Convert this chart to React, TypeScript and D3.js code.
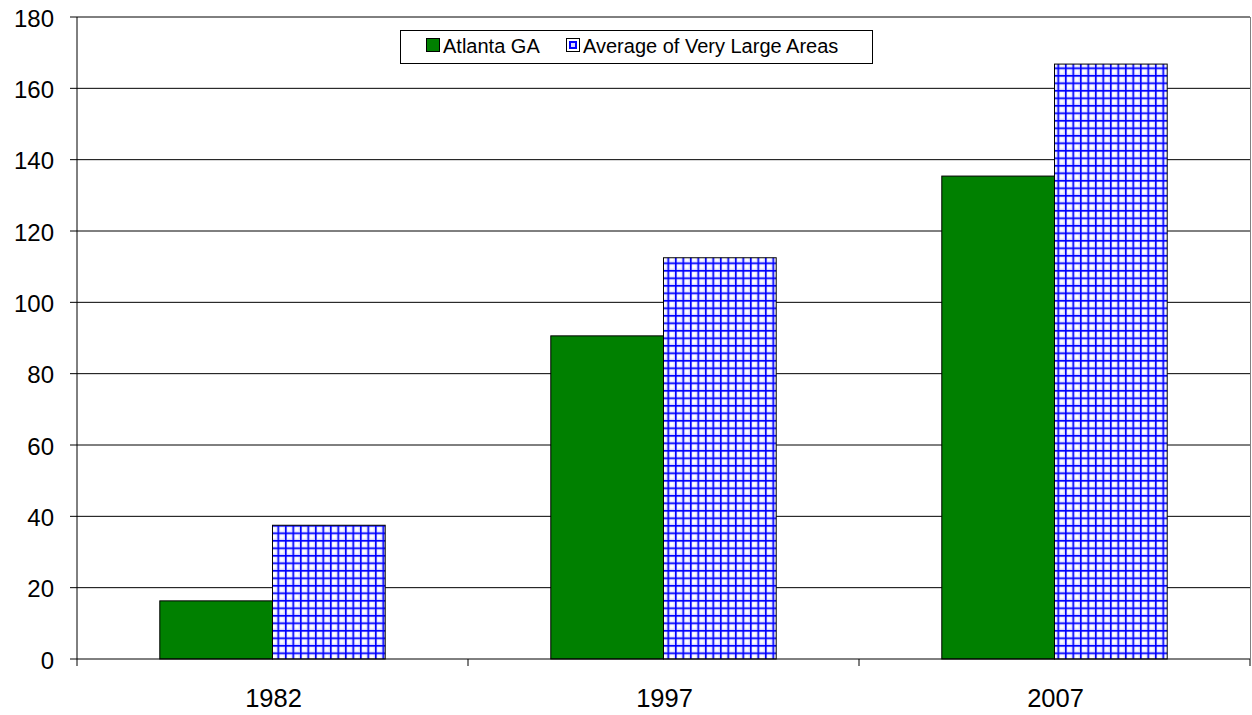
import React from "react";
import * as d3 from "d3";

const categories = ["1982", "1997", "2007"];
const atlanta = [16.3, 90.6, 135.4];
const veryLarge = [37.5, 112.5, 166.8];
const yTicks = [0, 20, 40, 60, 80, 100, 120, 140, 160, 180];
const seriesNames = ["Atlanta GA", "Average of Very Large Areas"];

export default function App() {
  const W = 1252, H = 715;
  const left = 77, right = 1250, top = 17, bottom = 659;
  const x = d3.scaleBand().domain(categories).range([left, right]).paddingInner(0).paddingOuter(0);
  const y = d3.scaleLinear().domain([0, 180]).range([bottom, top]);
  const bw = x.bandwidth();
  const barW = 112.7;
  const font = "Arial, 'Liberation Sans', sans-serif";
  return (
    <svg width={W} height={H} style={{ position: "absolute", left: 0, top: 0 }}>
      <defs>
        <pattern id="grid" width={7.5} height={7.5} patternUnits="userSpaceOnUse" x={0} y={0}>
          <rect width={7.5} height={7.5} fill="#d8d8ff" />
          <rect x={2.2} y={2.2} width={4} height={4} fill="#ffffff" />
          <rect x={0} y={0} width={7.5} height={1.6} fill="#0000ff" />
          <rect x={0} y={0} width={1.6} height={7.5} fill="#0000ff" />
        </pattern>
      </defs>
      <rect width={W} height={H} fill="#fff" />
      {yTicks.map((t) => (
        <g key={t}>
          {t > 0 && <line x1={left} x2={right} y1={y(t)} y2={y(t)} stroke="#000" strokeWidth={1} />}
          <line x1={left - 7} x2={left} y1={y(t)} y2={y(t)} stroke="#000" strokeWidth={1} />
          <text x={left - 23} y={y(t) + 1} textAnchor="end" dominantBaseline="central" fontFamily={font} fontSize={24}>{t}</text>
        </g>
      ))}
      <line x1={right + 0.5} x2={right + 0.5} y1={top} y2={bottom} stroke="#808080" strokeWidth={1} />
      {categories.map((c, i) => {
        const cx = (x(c) as number) + bw / 2;
        return (
          <g key={c}>
            <rect x={cx - barW} y={y(atlanta[i])} width={barW} height={bottom - y(atlanta[i])} fill="#008000" stroke="#000" strokeWidth={1} />
            <rect x={cx} y={y(veryLarge[i])} width={barW} height={bottom - y(veryLarge[i])} fill="url(#grid)" stroke="#000" strokeWidth={1} />
            <text x={cx + 1} y={698} textAnchor="middle" dominantBaseline="central" fontFamily={font} fontSize={25.5}>{c}</text>
          </g>
        );
      })}
      {categories.map((c) => (
        <line key={"t" + c} x1={(x(c) as number) + bw} x2={(x(c) as number) + bw} y1={bottom} y2={bottom + 7} stroke="#000" />
      ))}
      <line x1={left} x2={left} y1={top} y2={bottom + 7} stroke="#000" strokeWidth={1} />
      <line x1={left} x2={right} y1={bottom} y2={bottom} stroke="#000" strokeWidth={1} />
      <g>
        <rect x={400.5} y={30.5} width={472} height={33} fill="#fff" stroke="#000" strokeWidth={1} />
        <rect x={426.5} y={38.5} width={13} height={13} fill="#008000" stroke="#000" strokeWidth={1} />
        <text x={443} y={46} dominantBaseline="central" fontFamily={font} fontSize={20}>{seriesNames[0]}</text>
        <rect x={566.5} y={38.5} width={13} height={13} fill="#fff" stroke="#000" strokeWidth={1} />
        <rect x={569} y={41} width={8} height={8} fill="#0000ff" />
        <rect x={571} y={43} width={4} height={4} fill="#d8d8ff" />
        <text x={583} y={46} dominantBaseline="central" fontFamily={font} fontSize={20}>{seriesNames[1]}</text>
      </g>
    </svg>
  );
}
